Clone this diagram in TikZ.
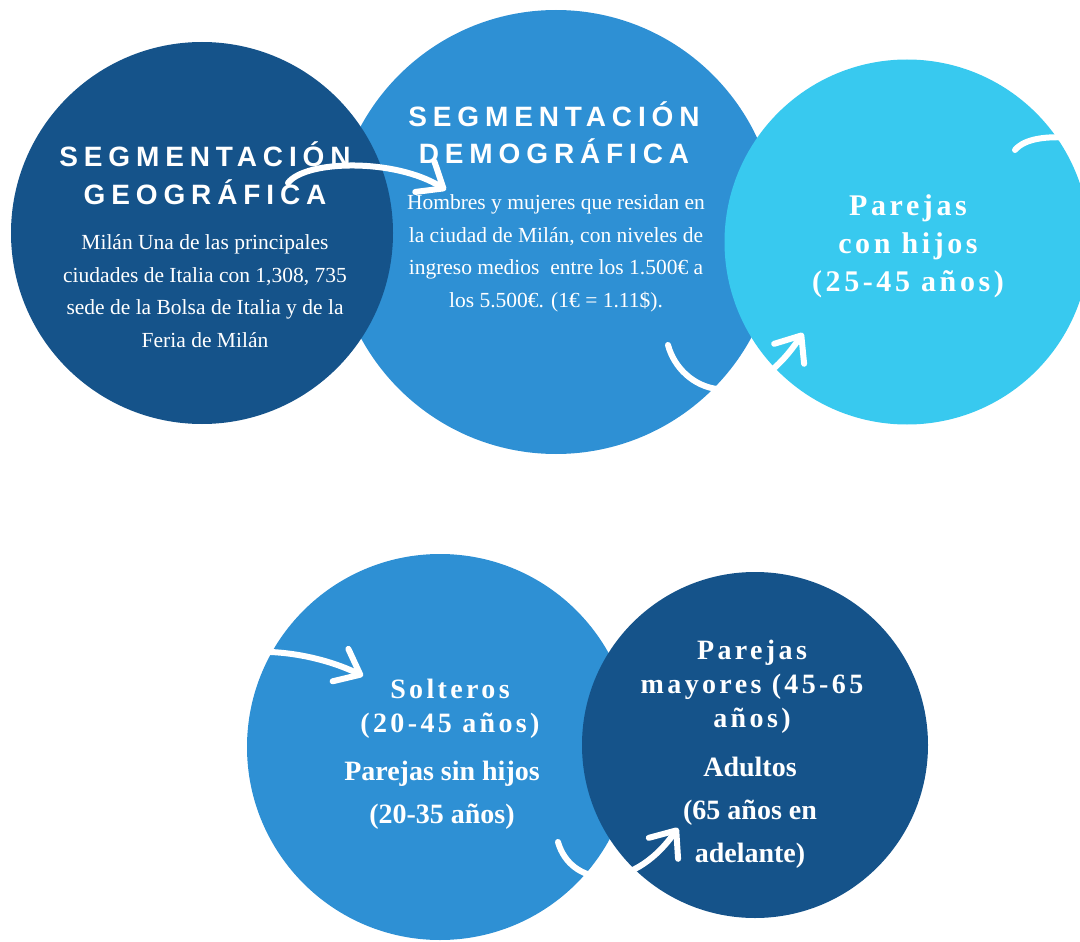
\documentclass[tikz,border=0pt]{standalone}
\usepackage{fontspec}
\setmainfont{Liberation Serif}
\newfontfamily\titulofont[LetterSpace=21]{Liberation Sans}
\newfontfamily\espaciadafont[LetterSpace=12]{Liberation Serif}
\usepackage{xcolor}
\usetikzlibrary{arrows.meta}

\definecolor{azuloscuro}{HTML}{15538A}
\definecolor{azulmedio}{HTML}{2E90D4}
\definecolor{celeste}{HTML}{38C9EF}

\begin{document}
\begin{tikzpicture}[
  x=1pt, y=-1pt,
  circulo/.style={circle, inner sep=0pt, draw=none},
  titulo/.style={text=white, align=center, anchor=base, font=\titulofont\bfseries\fontsize{28}{38}\selectfont},
  cuerpo/.style={text=white, align=center, anchor=base, font=\fontsize{21.5}{32.5}\selectfont},
  grupo/.style={text=white, align=center, anchor=base, font=\espaciadafont\bfseries\fontsize{28}{34}\selectfont},
  grupodos/.style={text=white, align=center, anchor=base, font=\bfseries\fontsize{28}{43}\selectfont},
  trazo/.style={draw=white, line width=6pt, line cap=round},
  flecha/.style={trazo, -{Straight Barb[round, length=22pt, width=36pt]}},
]
\useasboundingbox (0,0) rectangle (1080,942);
\clip (0,0) rectangle (1080,942);

% fila de arriba
\node[circulo, fill=azulmedio, minimum size=444pt] (demo) at (556,232) {};
\node[circulo, fill=azuloscuro, minimum size=382pt] (geo) at (202,233) {};
\node[circulo, fill=celeste, minimum size=365pt] (hijos) at (907,242) {};

\node[titulo] (geotit) at (205,204) {SEGMENTACIÓN\\GEOGRÁFICA};
\node[cuerpo] (geotxt) at (205,347) {Milán Una de las principales\\ciudades de Italia con 1,308, 735\\sede de la Bolsa de Italia y de la\\Feria de Milán};
\node[titulo] (demotit) at (554,164) {SEGMENTACIÓN\\DEMOGRÁFICA};
\node[cuerpo] (demotxt) at (556,307) {Hombres y mujeres que residan en\\la ciudad de Milán, con niveles de\\ingreso medios~ entre los 1.500€ a\\los 5.500€. (1€ = 1.11\$).};
\node[grupo, font=\espaciadafont\bfseries\fontsize{30}{37.7}\selectfont] (hijostxt) at (908,291) {Parejas\\con hijos\\(25-45 años)};

% fila de abajo
\node[circulo, fill=azulmedio, minimum size=386pt] (solt) at (440,747) {};
\node[circulo, fill=azuloscuro, minimum size=346pt] (mayor) at (755,745) {};

\node[grupo] (solttit) at (450,732) {Solteros\\(20-45 años)};
\node[grupodos] (solttxt) at (442,823) {Parejas sin hijos\\(20-35 años)};
\node[grupo] (mayortit) at (752,727) {Parejas\\mayores (45-65\\años)};
\node[grupodos] (mayortxt) at (750,862) {Adultos\\(65 años en\\adelante)};

% flechas
\coordinate (f1a) at (288,183);
\coordinate (f1b) at (446,190);
\coordinate (f2a) at (668,345);
\coordinate (f2b) at (803,333);
\coordinate (f3a) at (1015,150);
\coordinate (f3b) at (1090,140);
\coordinate (f4a) at (250,652);
\coordinate (f4b) at (363,676);
\coordinate (f5a) at (558,842);
\coordinate (f5b) at (678,828);

\draw[flecha] (f1a) .. controls (305,160) and (395,158) .. (f1b);
\draw[flecha] (f2a) .. controls (680,390) and (745,420) .. (f2b);
\draw[trazo] (f3a) .. controls (1025,138) and (1050,134) .. (f3b);
\draw[flecha] (f4a) .. controls (290,650) and (330,660) .. (f4b);
\draw[flecha] (f5a) .. controls (570,885) and (630,895) .. (f5b);

\end{tikzpicture}
\end{document}
